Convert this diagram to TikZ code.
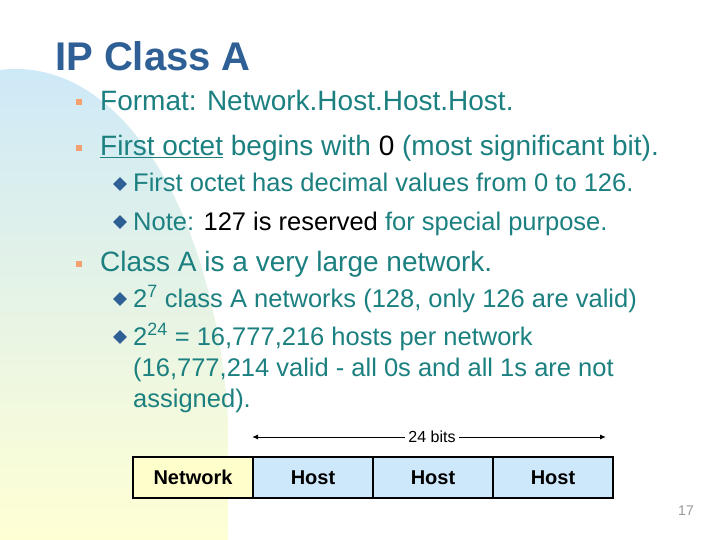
\documentclass[tikz,border=0pt]{standalone}
\usepackage{fontspec}
\setmainfont{Liberation Sans}
\usetikzlibrary{shapes.geometric,arrows.meta}
\definecolor{tx}{HTML}{1C8080}
\definecolor{tt}{HTML}{2E5F95}
\definecolor{bl}{HTML}{2E5F95}
\definecolor{og}{HTML}{F4A070}
\definecolor{bgb}{HTML}{CCE8F8}
\definecolor{bgy}{HTML}{FFFFD4}
\definecolor{hb}{HTML}{CDE8FB}
\definecolor{ny}{HTML}{FFFFCC}
\begin{document}
\begin{tikzpicture}[x=1pt,y=-1pt,
  l1/.style={anchor=base west,inner sep=0,text=tx,font=\fontsize{28}{32}\selectfont},
  l2/.style={anchor=base west,inner sep=0,text=tx,font=\fontsize{25.5}{30}\selectfont},
  sq/.style={fill=og,minimum size=6pt,inner sep=0},
  dm/.style={diamond,fill=bl,minimum size=14pt,inner sep=0},
  cell/.style={draw,line width=1.6pt,minimum width=120pt,minimum height=41pt,inner sep=0,font=\fontsize{20}{22}\selectfont\bfseries}]
\useasboundingbox (0,0) rectangle (720,540);
\fill[white] (0,0) rectangle (720,540);
\shade[top color=bgb,bottom color=bgy] (0,70) .. controls (120,55) and (215,210) .. (228,420) -- (228,540) -- (0,540) -- cycle;
\node[anchor=base west,inner sep=0,text=tt,font=\fontsize{40}{46}\selectfont\bfseries] (title) at (55,71) {IP Class A};
\node[sq] (b1) at (79,102) {};
\node[l1] (t1) at (100,111) {Format: Network.Host.Host.Host.};
\node[sq] (b2) at (79,148) {};
\node[l1] (t2) at (100,156) {\underline{First octet} begins with \textcolor{black}{0} (most significant bit).};
\node[dm] (d1) at (120,184) {};
\node[l2] (t3) at (133,192) {First octet has decimal values from 0 to 126.};
\node[dm] (d2) at (120,222) {};
\node[l2] (t4) at (133,230) {Note: \textcolor{black}{127 is reserved} for special purpose.};
\node[sq] (b3) at (79,264) {};
\node[l1] (t5) at (100,271) {Class A is a very large network.};
\node[dm] (d3) at (120,299) {};
\node[l2] (t6) at (133,307) {2\textsuperscript{7} class A networks (128, only 126 are valid)};
\node[dm] (d4) at (120,337) {};
\node[l2] (t7) at (133,345) {2\textsuperscript{24} = 16,777,216 hosts per network};
\node[l2] (t8) at (133,376) {(16,777,214 valid - all 0s and all 1s are not};
\node[l2] (t9) at (133,407) {assigned).};
\node[cell,fill=ny] (n) at (193,477.5) {Network};
\node[cell,fill=hb] (h1) at (313,477.5) {Host};
\node[cell,fill=hb] (h2) at (433,477.5) {Host};
\node[cell,fill=hb] (h3) at (553,477.5) {Host};
\coordinate (aL) at (252,437);
\coordinate (aR) at (606,437);
\node[fill=white,inner sep=3pt,font=\fontsize{16}{18}\selectfont] (bits) at (432,437) {24 bits};
\draw[-{Latex[length=6pt,width=5pt]},line width=1pt] (bits.west) -- (aL);
\draw[-{Latex[length=6pt,width=5pt]},line width=1pt] (bits.east) -- (aR);
\node[text=gray!80,font=\fontsize{14}{16}\selectfont] (pg) at (686,511) {17};
\end{tikzpicture}
\end{document}
